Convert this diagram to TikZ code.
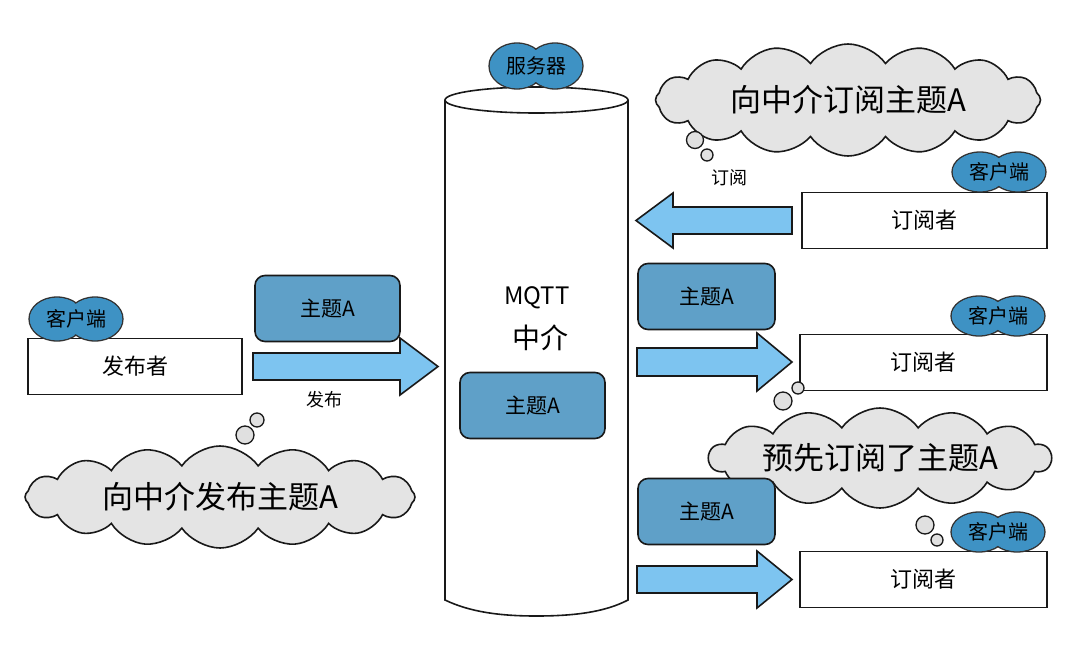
\documentclass[tikz,border=0pt]{standalone}
\usepackage{fontspec}
\setmainfont{Noto Sans CJK SC}
\usetikzlibrary{shapes.symbols}
\definecolor{topicblue}{RGB}{95,160,200}
\definecolor{arrowblue}{RGB}{125,196,240}
\definecolor{blobblue}{RGB}{62,146,196}
\definecolor{cloudgray}{RGB}{228,228,228}
\definecolor{bubblegray}{RGB}{224,224,224}
\tikzset{
  ink/.style={line width=1.6pt, draw=black!90},
  actor/.style={ink, fill=white, minimum width=#1, minimum height=56pt, inner sep=0pt, font=\fontsize{22}{24}\selectfont},
  topic/.style={ink, fill=topicblue, rounded corners=10pt, minimum width=#1, minimum height=66pt, inner sep=0pt, font=\fontsize{21}{24}\selectfont},
  thought/.style={cloud, cloud puffs=#1, cloud puff arc=110, cloud ignores aspect, ink, fill=cloudgray, inner sep=0pt, font=\fontsize{31}{34}\selectfont},
  bubble/.style={ink, line width=1.3pt, fill=bubblegray, circle, inner sep=0pt, minimum size=#1},
  blockarrow/.style={ink, fill=arrowblue, line join=miter},
  small/.style={font=\fontsize{18}{20}\selectfont},
  blobry/.store in=\blobry, blobry=20pt,
  blob/.pic={
    \fill[blobblue, draw=black!80, line width=1.3pt] (-19,0) ellipse [x radius=28pt, y radius=\blobry];
    \fill[blobblue, draw=black!80, line width=1.3pt] (19,0) ellipse [x radius=28pt, y radius=\blobry];
    \fill[blobblue] (-19,0) ellipse [x radius=27pt, y radius=\blobry-1pt];
    \fill[blobblue] (19,0) ellipse [x radius=27pt, y radius=\blobry-1pt];
    \node[font=\fontsize{20}{22}\selectfont] (-txt) at (0,0) {#1};
  }
}
\begin{document}
\begin{tikzpicture}[x=1pt,y=-1pt]
\useasboundingbox (0,0) rectangle (1080,646);

% broker cylinder
\draw[ink, fill=white] (445,100) -- (445,600) .. controls (470,612) and (500,616) .. (536,616) .. controls (575,616) and (605,612) .. (628,600) -- (628,100);
\draw[ink, fill=white] (536.5,100) ellipse [x radius=91.5pt, y radius=13pt];
\coordinate (broker) at (536.5,350);
\pic[blobry=23pt] (srv) at (536,66) {blob={服务器}};
\node[font=\fontsize{24}{26}\selectfont] (mqtt) at (537,298) {MQTT};
\node[font=\fontsize{28}{30}\selectfont] (zj) at (540,338) {中介};
\node[topic=145pt] (tin) at (532.5,405.5) {主题A};

% publisher
\node[actor=214pt] (pub) at (135,366.5) {发布者};
\pic[blobry=22pt] (cpub) at (76,319) {blob={客户端}};
\node[topic=145pt] (tpub) at (327.5,308.5) {主题A};
\draw[blockarrow] (253,353) -- (400,353) -- (400,338) -- (438,366.5) -- (400,395) -- (400,380) -- (253,380) -- cycle;
\node[small] (lpub) at (324,400) {发布};
\node[bubble=14pt] (bp1) at (257,420) {};
\node[bubble=18pt] (bp2) at (245,435) {};
\node[thought=16, minimum width=390pt, minimum height=102pt] (cpubt) at (220,497) {向中介发布主题A};

% subscriber 1
\node[thought=16, minimum width=385pt, minimum height=112pt] (csub1) at (848,100) {向中介订阅主题A};
\node[bubble=17pt] (bs1) at (695,140) {};
\node[bubble=12pt] (bs2) at (707,155) {};
\node[small] (lsub) at (729,178) {订阅};
\node[actor=245pt] (sub1) at (924.5,220.5) {订阅者};
\pic (c1) at (999,172) {blob={客户端}};
\draw[blockarrow] (792,207) -- (673,207) -- (673,193) -- (636,220.5) -- (673,248) -- (673,234) -- (792,234) -- cycle;

% subscriber 2
\node[topic=137pt] (t2) at (706.5,296.5) {主题A};
\node[actor=247pt] (sub2) at (923.5,362.5) {订阅者};
\pic (c2) at (998,316) {blob={客户端}};
\draw[blockarrow] (637,348) -- (757,348) -- (757,333) -- (792,362) -- (757,391) -- (757,376) -- (637,376) -- cycle;
\node[bubble=12pt] (bq1) at (798,388) {};
\node[bubble=18pt] (bq2) at (783,401) {};

% subscriber 3
\node[thought=14, minimum width=342pt, minimum height=100pt] (csub3) at (880,458) {预先订阅了主题A};
\node[bubble=18pt] (br1) at (925,525) {};
\node[bubble=12pt] (br2) at (937,540) {};
\node[topic=137pt] (t3) at (706.5,511.5) {主题A};
\node[actor=247pt] (sub3) at (923.5,579.5) {订阅者};
\pic (c3) at (998,532) {blob={客户端}};
\draw[blockarrow] (637,566) -- (757,566) -- (757,551) -- (792,579.5) -- (757,608) -- (757,593) -- (637,593) -- cycle;
\end{tikzpicture}
\end{document}
